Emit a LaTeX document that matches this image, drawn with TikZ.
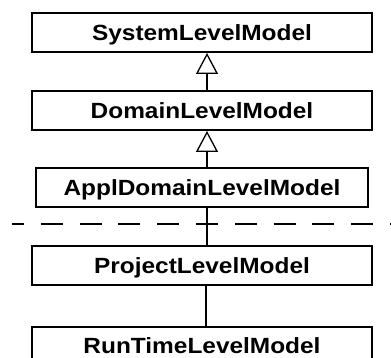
\documentclass[tikz,border=0pt]{standalone}
\usepackage{fontspec}
\setmainfont{Liberation Sans}[FakeStretch=1.11]
\usetikzlibrary{arrows.meta}
\begin{document}
\begin{tikzpicture}[x=1pt, y=-1pt,
  level/.style={draw=black, line width=2pt, fill=white, inner sep=0pt,
    minimum width=340pt, minimum height=39pt,
    text height=15.5pt, text depth=0pt,
    font=\fontsize{22}{26}\selectfont\bfseries},
  inherit/.style={line width=2pt,
    -{Triangle[open, length=21pt, width=22pt, line width=1.3pt]}},
  link/.style={line width=2pt},
  boundary/.style={line width=2pt, dash pattern=on 22pt off 16.8pt, dash phase=10pt}]
  \useasboundingbox (0,0) rectangle (391,358);
  \clip (0,0) rectangle (391,358);

  % model levels, top to bottom
  \node[level] (sys)  at (202,32.5)  {SystemLevelModel};
  \node[level] (dom)  at (202,110.5) {DomainLevelModel};
  \node[level, minimum width=332pt] (appl) at (202,188) {ApplDomainLevelModel};
  \node[level] (proj) at (202,265.5) {ProjectLevelModel};
  \node[level] (run)  at (202,346)   {RunTimeLevelModel};

  % generalisation arrows
  \draw[inherit] ([xshift=5pt]dom.north) -- ([xshift=5pt]sys.south);
  \draw[inherit] ([xshift=5pt]appl.north) -- ([xshift=5pt]dom.south);

  % plain associations
  \draw[link] ([xshift=5pt]appl.south) -- ([xshift=5pt]proj.north);
  \draw[link] ([xshift=4pt]proj.south) -- ([xshift=4pt]run.north);

  % separating dashed boundary
  \coordinate (bl) at (12,224);
  \coordinate (br) at (395,224);
  \draw[boundary] (bl) -- (br);
\end{tikzpicture}
\end{document}
